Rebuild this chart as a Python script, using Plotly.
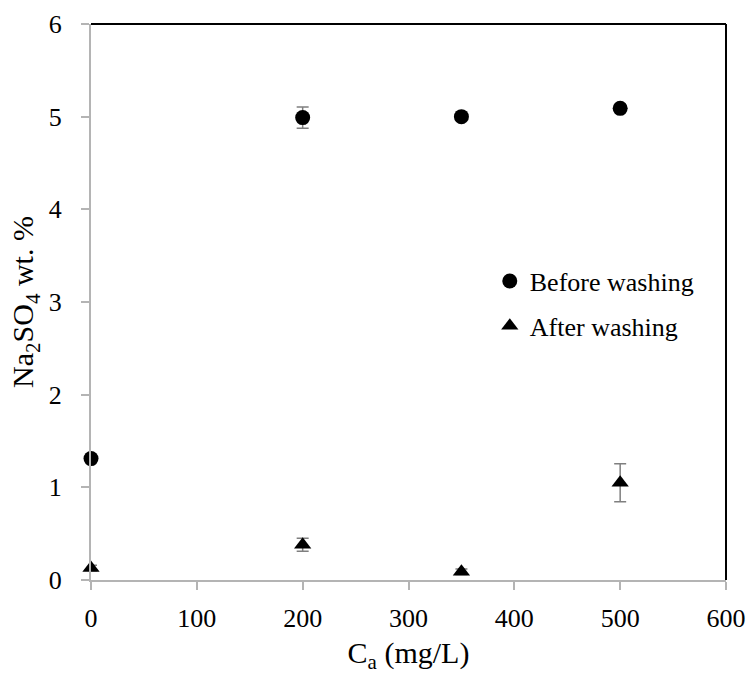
import plotly.graph_objects as go

# Calcium concentration (mg/L)
ca_conc = [0, 200, 350, 500]

# Na2SO4 content (wt. %) with standard deviations
before_wash = [1.31, 4.99, 5.00, 5.09]
before_err = [0.0, 0.115, 0.01, 0.01]
after_wash = [0.13, 0.38, 0.09, 1.05]
after_err = [0.03, 0.07, 0.03, 0.205]

x_ticks = [0, 100, 200, 300, 400, 500, 600]
y_ticks = [0, 1, 2, 3, 4, 5, 6]

FONT = "Liberation Serif"
AXIS_GREY = "#b4b4b4"
ERR_GREY = "#7f7f7f"

fig = go.Figure()

fig.add_trace(go.Scatter(
    x=ca_conc, y=before_wash, mode="markers", name="Before washing",
    legendgroup="a",
    marker=dict(symbol="circle", size=15, color="black"),
    error_y=dict(type="data", array=before_err, visible=True,
                 color=ERR_GREY, thickness=1.5, width=6),
    cliponaxis=False,
))
fig.add_trace(go.Scatter(
    x=ca_conc, y=after_wash, mode="markers", name="After washing",
    legendgroup="b",
    marker=dict(symbol="triangle-up", size=15, color="black"),
    error_y=dict(type="data", array=after_err, visible=True,
                 color=ERR_GREY, thickness=1.5, width=6),
    cliponaxis=False,
))

fig.update_layout(
    width=749, height=674,
    margin=dict(l=91, r=23, t=24, b=94),
    paper_bgcolor="white", plot_bgcolor="white",
    font=dict(family=FONT, size=26, color="black"),
    showlegend=True,
    legend=dict(
        x=0.628, y=0.497, xanchor="left", yanchor="middle",
        bgcolor="rgba(0,0,0,0)", font=dict(family=FONT, size=26, color="black"),
        itemwidth=30, tracegroupgap=8, traceorder="grouped",
    ),
    xaxis=dict(
        range=[0, 600], tickvals=x_ticks, ticktext=[str(v) for v in x_ticks],
        showgrid=False, zeroline=False, showline=True, linecolor=AXIS_GREY,
        linewidth=2, ticks="outside", ticklen=8, tickcolor=AXIS_GREY,
        tickwidth=2, ticklabelstandoff=6, automargin=False,
        tickfont=dict(family=FONT, size=26, color="black"),
        title=dict(text="C<sub>a</sub> (mg/L)",
                   font=dict(family=FONT, size=30, color="black"), standoff=12),
    ),
    yaxis=dict(
        range=[0, 6], tickvals=y_ticks, ticktext=[str(v) for v in y_ticks],
        showgrid=False, zeroline=False, showline=True, linecolor=AXIS_GREY,
        linewidth=2, ticks="outside", ticklen=8, tickcolor=AXIS_GREY,
        tickwidth=2, ticklabelstandoff=14, automargin=False,
        tickfont=dict(family=FONT, size=26, color="black"),
        title=dict(text="Na<sub>2</sub>SO<sub>4</sub> wt. %",
                   font=dict(family=FONT, size=30, color="black"), standoff=6),
    ),
    shapes=[
        dict(type="line", xref="paper", yref="paper", x0=0, x1=1, y0=1, y1=1,
             line=dict(color="black", width=2)),
        dict(type="line", xref="paper", yref="paper", x0=1, x1=1, y0=0, y1=1,
             line=dict(color="black", width=2)),
    ],
)

fig.write_html("out.html")
